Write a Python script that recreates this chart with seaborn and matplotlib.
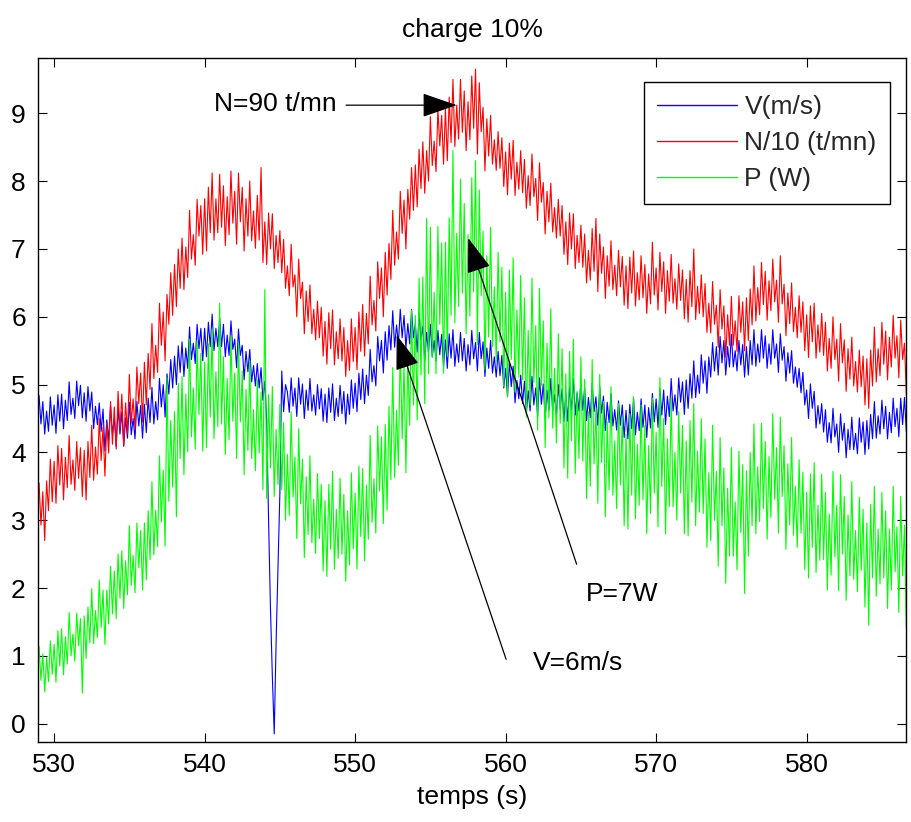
import numpy as np
import pandas as pd
import matplotlib
matplotlib.use("Agg")
import matplotlib.pyplot as plt
import seaborn as sns

# ---- data (one value every 0.125 s from t = 529 s,
#      one row per second) ----
T0 = 529.0
DT = 0.125

V = [
    4.84, 4.42, 4.75, 4.27, 4.61, 4.31, 4.82, 4.40,   # 529
    4.70, 4.28, 4.85, 4.46, 4.86, 4.35, 4.77, 4.47,   # 530
    5.04, 4.56, 4.80, 4.50, 5.05, 4.69, 4.99, 4.51,   # 531
    4.88, 4.46, 4.97, 4.61, 4.89, 4.35, 4.68, 4.41,   # 532
    4.73, 4.31, 4.64, 4.02, 4.48, 4.18, 4.69, 4.27,   # 533
    4.51, 4.09, 4.66, 4.27, 4.60, 4.09, 4.51, 4.21,   # 534
    4.74, 4.26, 4.50, 4.20, 4.75, 4.39, 4.69, 4.21,   # 535
    4.71, 4.29, 4.80, 4.44, 4.96, 4.42, 4.75, 4.48,   # 536
    5.09, 4.67, 5.00, 4.52, 5.16, 4.86, 5.37, 4.95,   # 537
    5.42, 5.00, 5.57, 5.18, 5.63, 5.12, 5.54, 5.24,   # 538
    5.85, 5.37, 5.61, 5.31, 5.89, 5.53, 5.83, 5.35,   # 539
    5.83, 5.41, 5.92, 5.56, 6.04, 5.50, 5.83, 5.56,   # 540
    5.98, 5.56, 5.89, 5.41, 5.73, 5.43, 5.94, 5.52,   # 541
    5.67, 5.25, 5.82, 5.43, 5.58, 5.07, 5.49, 5.19,   # 542
    5.52, 5.04, 5.28, 4.98, 5.31, 4.95, 5.25, 4.77,   # 543
    5.05, 4.45, 3.00, 1.70, 0.70, -0.15, 1.20, 2.30,  # 544
    3.40, 5.20, 4.60, 5.00, 4.89, 4.59, 5.10, 4.68,   # 545
    4.95, 4.53, 5.10, 4.71, 5.01, 4.50, 4.92, 4.62,   # 546
    5.09, 4.61, 4.85, 4.55, 5.00, 4.64, 4.94, 4.46,   # 547
    4.86, 4.44, 4.95, 4.59, 5.01, 4.47, 4.80, 4.53,   # 548
    4.99, 4.57, 4.90, 4.42, 4.86, 4.56, 5.07, 4.65,   # 549
    5.02, 4.60, 5.17, 4.78, 5.23, 4.72, 5.14, 4.84,   # 550
    5.52, 5.04, 5.28, 4.98, 5.71, 5.35, 5.65, 5.17,   # 551
    5.78, 5.36, 5.87, 5.51, 6.09, 5.55, 5.88, 5.61,   # 552
    6.11, 5.69, 6.02, 5.54, 5.90, 5.60, 6.11, 5.69,   # 553
    5.90, 5.48, 6.05, 5.66, 5.86, 5.35, 5.77, 5.47,   # 554
    5.89, 5.41, 5.65, 5.35, 5.80, 5.44, 5.74, 5.26,   # 555
    5.66, 5.24, 5.75, 5.39, 5.81, 5.27, 5.60, 5.33,   # 556
    5.77, 5.35, 5.68, 5.20, 5.59, 5.29, 5.80, 5.38,   # 557
    5.62, 5.20, 5.77, 5.38, 5.63, 5.12, 5.54, 5.24,   # 558
    5.65, 5.17, 5.41, 5.11, 5.49, 5.13, 5.43, 4.95,   # 559
    5.24, 4.82, 5.33, 4.97, 5.27, 4.73, 5.06, 4.79,   # 560
    5.14, 4.72, 5.05, 4.57, 4.91, 4.61, 5.12, 4.70,   # 561
    4.95, 4.53, 5.10, 4.71, 5.01, 4.50, 4.92, 4.62,   # 562
    5.09, 4.61, 4.85, 4.55, 5.00, 4.64, 4.94, 4.46,   # 563
    4.88, 4.46, 4.97, 4.61, 5.09, 4.55, 4.88, 4.61,   # 564
    5.04, 4.62, 4.95, 4.47, 4.81, 4.51, 5.02, 4.60,   # 565
    4.82, 4.40, 4.97, 4.58, 4.83, 4.32, 4.74, 4.44,   # 566
    4.87, 4.39, 4.63, 4.33, 4.76, 4.40, 4.70, 4.22,   # 567
    4.62, 4.20, 4.71, 4.35, 4.80, 4.26, 4.59, 4.32,   # 568
    4.79, 4.37, 4.70, 4.22, 4.66, 4.36, 4.87, 4.45,   # 569
    4.79, 4.37, 4.94, 4.55, 4.92, 4.41, 4.83, 4.53,   # 570
    5.09, 4.61, 4.85, 4.55, 5.10, 4.74, 5.04, 4.56,   # 571
    5.07, 4.65, 5.16, 4.80, 5.35, 4.81, 5.14, 4.87,   # 572
    5.44, 5.02, 5.35, 4.87, 5.41, 5.11, 5.62, 5.20,   # 573
    5.56, 5.14, 5.71, 5.32, 5.65, 5.14, 5.56, 5.26,   # 574
    5.74, 5.26, 5.50, 5.20, 5.65, 5.29, 5.59, 5.11,   # 575
    5.56, 5.14, 5.65, 5.29, 5.81, 5.27, 5.60, 5.33,   # 576
    5.81, 5.39, 5.72, 5.24, 5.60, 5.30, 5.81, 5.39,   # 577
    5.60, 5.18, 5.75, 5.36, 5.56, 5.05, 5.47, 5.17,   # 578
    5.50, 5.02, 5.26, 4.96, 5.24, 4.88, 5.18, 4.70,   # 579
    4.92, 4.50, 5.01, 4.65, 4.90, 4.36, 4.69, 4.42,   # 580
    4.72, 4.30, 4.63, 4.15, 4.44, 4.14, 4.65, 4.23,   # 581
    4.42, 4.00, 4.57, 4.18, 4.43, 3.92, 4.34, 4.04,   # 582
    4.52, 4.04, 4.28, 3.98, 4.51, 4.15, 4.45, 3.97,   # 583
    4.47, 4.05, 4.56, 4.20, 4.75, 4.21, 4.54, 4.27,   # 584
    4.77, 4.35, 4.68, 4.20, 4.59, 4.29, 4.80, 4.38,   # 585
    4.65, 4.23, 4.80, 4.41, 4.81, 4.30, 4.72, 4.95,   # 586
]

N10 = [
    3.55, 2.93, 3.42, 2.70, 3.58, 3.14, 3.90, 3.27,   # 529
    3.87, 3.25, 4.10, 3.52, 4.06, 3.30, 3.93, 3.48,   # 530
    4.25, 3.53, 3.89, 3.44, 4.16, 3.62, 4.07, 3.35,   # 531
    4.03, 3.30, 4.16, 3.63, 4.40, 3.59, 4.08, 3.68,   # 532
    4.50, 3.88, 4.37, 3.65, 4.43, 3.99, 4.75, 4.12,   # 533
    4.67, 4.05, 4.90, 4.32, 4.86, 4.10, 4.73, 4.28,   # 534
    5.15, 4.43, 4.79, 4.34, 5.26, 4.72, 5.17, 4.45,   # 535
    5.33, 4.70, 5.46, 4.93, 5.90, 5.09, 5.58, 5.18,   # 536
    6.20, 5.58, 6.07, 5.35, 6.33, 5.89, 6.65, 6.02,   # 537
    6.77, 6.15, 7.00, 6.42, 7.16, 6.40, 7.03, 6.58,   # 538
    7.57, 6.85, 7.21, 6.76, 7.73, 7.19, 7.64, 6.92,   # 539
    7.74, 6.97, 7.91, 7.24, 8.12, 7.13, 7.74, 7.24,   # 540
    8.10, 7.32, 7.93, 7.05, 7.77, 7.21, 8.15, 7.38,   # 541
    7.85, 7.07, 8.12, 7.40, 7.91, 6.97, 7.74, 7.19,   # 542
    8.00, 7.12, 7.56, 7.01, 7.79, 7.13, 8.20, 6.80,   # 543
    7.40, 6.77, 7.53, 7.00, 7.52, 6.71, 7.20, 6.80,   # 544
    7.27, 6.65, 7.14, 6.42, 6.75, 6.31, 7.07, 6.44,   # 545
    6.62, 6.00, 6.85, 6.27, 6.51, 5.75, 6.38, 5.93,   # 546
    6.47, 5.75, 6.11, 5.66, 6.23, 5.69, 6.14, 5.42,   # 547
    5.93, 5.30, 6.06, 5.53, 6.10, 5.29, 5.78, 5.38,   # 548
    5.97, 5.35, 5.84, 5.12, 5.65, 5.21, 5.97, 5.34,   # 549
    5.84, 5.22, 6.07, 5.49, 6.18, 5.42, 6.05, 5.60,   # 550
    6.60, 5.88, 6.24, 5.79, 6.81, 6.27, 6.72, 6.00,   # 551
    6.95, 6.32, 7.08, 6.55, 7.57, 6.76, 7.25, 6.85,   # 552
    7.85, 7.23, 7.72, 7.00, 7.88, 7.44, 8.20, 7.57,   # 553
    8.24, 7.62, 8.47, 7.89, 8.58, 7.82, 8.45, 8.00,   # 554
    8.95, 8.23, 8.59, 8.14, 9.06, 8.52, 8.97, 8.25,   # 555
    9.07, 8.30, 9.24, 8.57, 9.50, 8.51, 9.12, 8.62,   # 556
    9.50, 8.72, 9.33, 8.45, 9.17, 8.61, 9.55, 8.78,   # 557
    9.65, 8.40, 9.45, 8.73, 9.09, 8.15, 8.92, 8.37,   # 558
    8.97, 8.25, 8.61, 8.16, 8.73, 8.19, 8.64, 7.92,   # 559
    8.43, 7.80, 8.56, 8.03, 8.60, 7.79, 8.28, 7.88,   # 560
    8.45, 7.83, 8.32, 7.60, 8.08, 7.64, 8.40, 7.77,   # 561
    8.04, 7.42, 8.27, 7.69, 7.98, 7.22, 7.85, 7.40,   # 562
    7.97, 7.25, 7.61, 7.16, 7.73, 7.19, 7.64, 6.92,   # 563
    7.40, 6.77, 7.53, 7.00, 7.52, 6.71, 7.20, 6.80,   # 564
    7.35, 6.73, 7.22, 6.50, 6.98, 6.54, 7.30, 6.67,   # 565
    7.45, 6.37, 7.22, 6.64, 7.03, 6.27, 6.90, 6.45,   # 566
    7.12, 6.40, 6.76, 6.31, 6.98, 6.44, 6.89, 6.17,   # 567
    6.75, 6.12, 6.88, 6.35, 6.97, 6.16, 6.65, 6.25,   # 568
    6.90, 6.28, 6.77, 6.05, 6.63, 6.19, 7.10, 6.32,   # 569
    6.72, 6.10, 6.95, 6.37, 6.81, 6.05, 6.68, 6.23,   # 570
    6.92, 6.20, 6.56, 6.11, 6.78, 6.24, 6.69, 5.97,   # 571
    6.55, 5.92, 6.68, 6.15, 7.00, 5.96, 6.45, 6.05,   # 572
    6.62, 6.00, 6.49, 5.77, 6.20, 5.76, 6.52, 5.89,   # 573
    6.17, 5.55, 6.40, 5.82, 6.16, 5.40, 6.03, 5.58,   # 574
    6.30, 5.58, 5.94, 5.49, 6.31, 5.77, 6.22, 5.50,   # 575
    6.28, 5.65, 6.41, 5.88, 6.75, 5.94, 6.43, 6.03,   # 576
    6.80, 6.18, 6.67, 5.95, 6.53, 6.09, 6.85, 6.22,   # 577
    6.54, 5.92, 6.90, 6.19, 6.48, 5.72, 6.35, 5.90,   # 578
    6.50, 5.78, 6.14, 5.69, 6.31, 5.77, 6.22, 5.50,   # 579
    6.03, 5.40, 6.16, 5.63, 6.20, 5.39, 5.88, 5.48,   # 580
    6.05, 5.43, 5.92, 5.20, 5.68, 5.24, 6.00, 5.37,   # 581
    5.67, 5.05, 5.90, 5.32, 5.66, 4.90, 5.53, 5.08,   # 582
    5.70, 4.98, 5.34, 4.89, 5.51, 4.97, 5.42, 4.70,   # 583
    5.38, 4.65, 5.51, 4.98, 5.85, 5.04, 5.53, 5.13,   # 584
    5.92, 5.30, 5.79, 5.07, 5.70, 5.26, 6.02, 5.39,   # 585
    5.72, 5.10, 5.95, 5.37, 5.61, 4.85, 5.48, 5.03,   # 586
]

P = [
    1.14, 0.64, 1.03, 0.47, 0.98, 0.62, 1.22, 0.73,   # 529
    1.17, 0.61, 1.37, 0.85, 1.40, 0.72, 1.28, 0.88,   # 530
    1.64, 1.00, 1.32, 0.92, 1.63, 1.15, 1.55, 0.45,   # 531
    1.59, 0.96, 1.72, 1.19, 1.99, 1.18, 1.67, 1.27,   # 532
    2.12, 1.42, 1.97, 1.17, 1.97, 1.47, 2.32, 1.62,   # 533
    2.25, 1.55, 2.50, 1.85, 2.55, 1.70, 2.40, 1.90,   # 534
    2.92, 2.04, 2.48, 1.93, 2.96, 2.30, 2.85, 1.97,   # 535
    2.96, 2.12, 3.14, 2.42, 3.57, 2.49, 3.15, 2.61,   # 536
    3.95, 2.97, 3.74, 2.62, 5.10, 3.28, 4.47, 3.49,   # 537
    4.60, 3.05, 5.02, 3.91, 5.12, 3.67, 4.86, 4.01,   # 538
    5.67, 4.23, 4.95, 4.05, 5.64, 4.56, 5.46, 4.02,   # 539
    5.33, 4.07, 5.60, 4.52, 5.82, 4.20, 5.19, 4.38,   # 540
    6.20, 4.42, 5.41, 3.97, 5.09, 4.19, 5.72, 4.46,   # 541
    5.17, 3.91, 5.62, 4.45, 5.20, 3.67, 4.93, 4.03,   # 542
    5.35, 3.91, 4.63, 3.73, 5.07, 3.99, 4.89, 3.45,   # 543
    6.40, 3.32, 4.85, 3.77, 4.97, 3.35, 4.34, 3.53,   # 544
    4.71, 3.45, 4.44, 3.00, 3.97, 3.07, 4.60, 3.34,   # 545
    3.93, 2.73, 4.35, 3.24, 3.90, 2.45, 3.64, 2.79,   # 546
    3.95, 2.67, 3.31, 2.51, 3.69, 2.73, 3.53, 2.25,   # 547
    3.29, 2.17, 3.53, 2.57, 3.72, 2.28, 3.16, 2.44,   # 548
    3.62, 2.50, 3.38, 2.10, 3.14, 2.34, 3.70, 2.58,   # 549
    3.40, 2.28, 3.80, 2.76, 3.76, 2.40, 3.52, 2.72,   # 550
    4.25, 2.97, 3.61, 2.81, 4.39, 3.43, 4.23, 2.95,   # 551
    4.41, 3.15, 4.68, 3.60, 5.25, 3.63, 4.62, 3.81,   # 552
    5.60, 4.20, 5.30, 3.70, 5.40, 4.40, 6.10, 4.70,   # 553
    6.02, 4.48, 6.57, 5.14, 6.59, 4.72, 7.45, 5.16,   # 554
    7.32, 5.40, 6.36, 5.16, 7.33, 5.89, 7.09, 5.17,   # 555
    7.10, 5.42, 7.46, 6.02, 8.45, 5.91, 7.23, 6.15,   # 556
    8.03, 6.35, 7.67, 5.75, 7.21, 6.01, 8.05, 6.37,   # 557
    8.30, 5.59, 7.87, 6.31, 7.26, 5.22, 6.90, 5.70,   # 558
    7.32, 5.56, 6.44, 5.34, 6.95, 5.63, 6.73, 4.97,   # 559
    6.36, 4.82, 6.69, 5.37, 6.87, 4.89, 6.10, 5.11,   # 560
    6.61, 5.07, 6.28, 4.52, 5.80, 4.70, 6.57, 5.03,   # 561
    5.87, 4.33, 6.42, 4.99, 5.94, 4.07, 5.61, 4.51,   # 562
    6.12, 4.36, 5.24, 4.14, 5.75, 4.43, 5.53, 3.77,   # 563
    5.16, 3.62, 5.49, 4.17, 5.67, 3.69, 4.90, 3.91,   # 564
    5.41, 3.87, 5.08, 3.32, 4.60, 3.50, 5.37, 3.83,   # 565
    4.65, 3.25, 5.15, 3.85, 4.75, 3.05, 4.45, 3.45,   # 566
    4.97, 3.37, 4.17, 3.17, 4.72, 3.52, 4.52, 2.92,   # 567
    4.27, 2.87, 4.57, 3.37, 4.82, 3.02, 4.12, 3.22,   # 568
    4.70, 3.30, 4.40, 2.80, 4.10, 3.10, 4.80, 3.40,   # 569
    4.30, 2.90, 5.10, 3.50, 4.50, 2.80, 4.20, 3.20,   # 570
    4.80, 3.20, 4.00, 3.00, 4.60, 3.40, 4.40, 2.80,   # 571
    4.17, 2.77, 4.47, 3.27, 4.72, 2.92, 4.02, 3.12,   # 572
    4.50, 3.10, 4.20, 2.60, 3.70, 2.70, 4.40, 3.00,   # 573
    3.72, 2.32, 4.22, 2.92, 3.77, 2.07, 3.47, 2.47,   # 574
    4.07, 2.47, 3.27, 2.27, 4.02, 2.82, 3.82, 1.92,   # 575
    3.73, 2.47, 4.00, 2.92, 4.42, 2.80, 3.79, 2.98,   # 576
    4.43, 3.17, 4.16, 2.72, 3.94, 3.04, 4.57, 3.31,   # 577
    4.07, 2.81, 4.52, 3.35, 4.10, 2.57, 3.83, 2.93,   # 578
    4.22, 2.78, 3.50, 2.60, 3.89, 2.81, 3.71, 2.27,   # 579
    3.41, 2.15, 3.68, 2.60, 3.85, 2.23, 3.22, 2.41,   # 580
    3.68, 2.42, 3.41, 1.97, 3.09, 2.19, 3.72, 2.46,   # 581
    3.22, 1.96, 3.67, 2.50, 3.35, 1.82, 3.08, 2.18,   # 582
    3.57, 2.13, 2.85, 1.95, 3.34, 2.26, 3.16, 1.72,   # 583
    2.96, 1.45, 3.23, 2.15, 3.50, 1.88, 2.87, 2.06,   # 584
    3.41, 2.15, 3.14, 1.70, 2.87, 1.97, 3.50, 2.24,   # 585
    2.90, 1.64, 3.35, 2.18, 2.93, 1.40, 2.66, 1.45,   # 586
]

LABELS = ["V(m/s)", "N/10 (t/mn)", "P (W)"]
COLORS = ["#0000ff", "#ff0000", "#00ff00"]
X_TICKS = [530, 540, 550, 560, 570, 580]
Y_TICKS = [0, 1, 2, 3, 4, 5, 6, 7, 8, 9]
TITLE = "charge 10%"
XLABEL = "temps (s)"

# annotations: (text, text pos, arrow tail, arrow tip, horizontal alignment)
ANNOTS = [
    ("N=90 t/mn", (548.75, 9.14), (549.4, 9.12), (556.75, 9.12), "right"),
    ("P=7W", (565.3, 1.91), (564.72, 2.35), (557.52, 7.16), "left"),
    ("V=6m/s", (561.82, 0.90), (560.03, 0.95), (552.76, 5.73), "left"),
]

# ---- build long-form table ----
frames = []
for lab, vals in zip(LABELS, [V, N10, P]):
    t = T0 + DT * np.arange(len(vals))
    frames.append(pd.DataFrame({"t": t, "val": vals, "serie": lab}))
df = pd.concat(frames, ignore_index=True)

sns.set_theme(style="white")
plt.rcParams["font.family"] = ["Liberation Sans", "DejaVu Sans"]

fig = plt.figure(figsize=(9.12, 8.22), dpi=100)
ax = fig.add_axes([0.042, 0.0973, 0.9514, 0.8321])

sns.lineplot(data=df, x="t", y="val", hue="serie", hue_order=LABELS,
             palette=COLORS, estimator=None, sort=False, linewidth=0.8,
             ax=ax, legend=True)

ax.set_xlim(528.95, 586.6)
ax.set_ylim(-0.27, 9.815)
ax.set_xticks(X_TICKS)
ax.set_yticks(Y_TICKS)
ax.tick_params(axis="both", which="major", direction="in", length=6.5,
               width=0.8, color="black", labelsize=19, labelcolor="black",
               top=True, right=True, bottom=True, left=True)
ax.tick_params(axis="x", pad=8)
ax.tick_params(axis="y", pad=9)
for s in ax.spines.values():
    s.set_visible(True)
    s.set_color("black")
    s.set_linewidth(1.0)

ax.set_title(TITLE, fontsize=19, pad=15, color="black")
ax.set_xlabel(XLABEL, fontsize=19, labelpad=6, color="black")
ax.set_ylabel("")

handles, labels = ax.get_legend_handles_labels()
leg = ax.legend(handles, labels, loc="upper right",
                bbox_to_anchor=(0.9815, 0.965), borderaxespad=0,
                fontsize=19, frameon=True, fancybox=False, framealpha=1,
                edgecolor="black", handlelength=3.0, handletextpad=0.3,
                labelspacing=0.45, borderpad=0.5)
leg.get_frame().set_linewidth(1.0)
for h in leg.get_lines():
    h.set_linewidth(1.0)

for txt, tpos, tail, tip, ha in ANNOTS:
    ax.annotate("", xy=tip, xytext=tail,
                arrowprops=dict(arrowstyle="-|>,head_length=1.1,head_width=0.38",
                                mutation_scale=20, color="black", lw=0.9,
                                shrinkA=0, shrinkB=0))
    ax.text(tpos[0], tpos[1], txt, ha=ha, va="center", fontsize=19,
            color="black")

fig.savefig("out.png", dpi=100)
